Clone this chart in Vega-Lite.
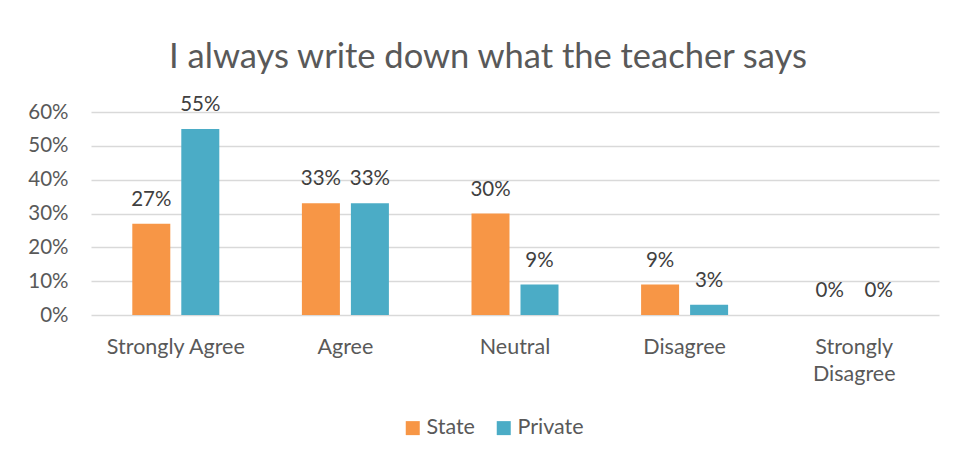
{
  "$schema": "https://vega.github.io/schema/vega-lite/v6.json",
  "autosize": {"type": "none"},
  "width": 848,
  "height": 203,
  "padding": {"left": 91, "top": 112, "right": 16, "bottom": 143},
  "background": "white",
  "title": {
    "text": "I always write down what the teacher says",
    "anchor": "middle",
    "frame": "group",
    "dx": -27,
    "offset": 19,
    "font": "Lato",
    "fontSize": 34.5,
    "fontWeight": "normal",
    "color": "#595959"
  },
  "data": {
    "values": [
      {"response": "Strongly Agree", "school": "State", "pct": 0.27},
      {"response": "Strongly Agree", "school": "Private", "pct": 0.55},
      {"response": "Agree", "school": "State", "pct": 0.33},
      {"response": "Agree", "school": "Private", "pct": 0.33},
      {"response": "Neutral", "school": "State", "pct": 0.30},
      {"response": "Neutral", "school": "Private", "pct": 0.09},
      {"response": "Disagree", "school": "State", "pct": 0.09},
      {"response": "Disagree", "school": "Private", "pct": 0.03},
      {"response": "Strongly Disagree", "school": "State", "pct": 0.0},
      {"response": "Strongly Disagree", "school": "Private", "pct": 0.0}
    ]
  },
  "encoding": {
    "x": {
      "field": "response",
      "type": "nominal",
      "sort": null,
      "scale": {"paddingInner": 0.487, "paddingOuter": 0.2435},
      "axis": {
        "title": null,
        "domain": false,
        "ticks": false,
        "labelAngle": 0,
        "labelFont": "Lato",
        "labelFontSize": 21.5,
        "labelColor": "#595959",
        "labelPadding": 21,
        "labelLineHeight": 27,
        "labelExpr": "datum.value == 'Strongly Disagree' ? ['Strongly', 'Disagree'] : datum.value"
      }
    },
    "xOffset": {
      "field": "school",
      "type": "nominal",
      "sort": ["State", "Private"],
      "scale": {"paddingInner": 0.2245, "paddingOuter": 0}
    },
    "y": {
      "field": "pct",
      "type": "quantitative",
      "scale": {"domain": [0, 0.6], "nice": false},
      "axis": {
        "title": null,
        "format": ".0%",
        "values": [0, 0.1, 0.2, 0.3, 0.4, 0.5, 0.6],
        "domain": false,
        "ticks": false,
        "labelFont": "Lato",
        "labelFontSize": 20.5,
        "labelColor": "#595959",
        "labelPadding": 23,
        "gridColor": "#D9D9D9",
        "gridWidth": 1.3
      }
    }
  },
  "layer": [
    {
      "mark": {"type": "bar"},
      "encoding": {
        "color": {
          "field": "school",
          "type": "nominal",
          "sort": ["State", "Private"],
          "scale": {"domain": ["State", "Private"], "range": ["#F79646", "#4BACC6"]},
          "legend": {
            "title": null,
            "orient": "none",
            "direction": "horizontal",
            "legendX": 311,
            "legendY": 305,
            "symbolType": "square",
            "symbolSize": 196,
            "symbolStrokeWidth": 0,
            "symbolOpacity": 1,
            "labelFont": "Lato",
            "labelFontSize": 21.5,
            "labelColor": "#595959",
            "labelOffset": 3,
            "columnPadding": 18,
            "padding": 0
          }
        }
      }
    },
    {
      "mark": {
        "type": "text",
        "baseline": "alphabetic",
        "dy": -18,
        "font": "Lato",
        "fontSize": 20.5,
        "color": "#404040"
      },
      "encoding": {
        "text": {"field": "pct", "type": "quantitative", "format": ".0%"}
      }
    }
  ],
  "config": {
    "view": {"stroke": null}
  }
}
